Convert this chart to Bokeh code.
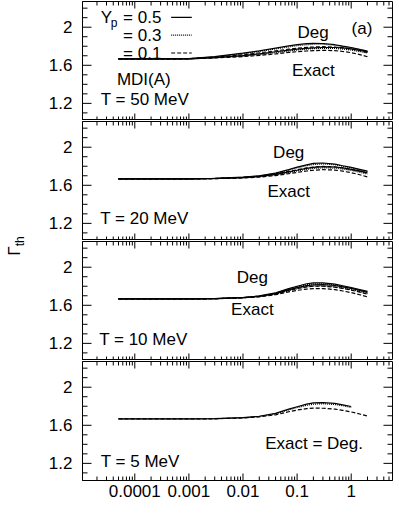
import math
from bokeh.plotting import figure
from bokeh.models import LogAxis, LinearAxis, FixedTicker, Label, Div
from bokeh.layouts import row, column
from bokeh.embed import file_html
from bokeh.resources import INLINE

NAN = float("nan")

# ---------------- data ----------------
DENSITY = [5e-5, 1e-4, 3e-4, 1e-3, 3e-3, 0.01, 0.02, 0.04, 0.07, 0.1,
           0.15, 0.2, 0.3, 0.5, 0.7, 1.0, 1.5, 2.0]

# T = 50 MeV
T50_DEG_05 = [1.667, 1.667, 1.667, 1.670, 1.690, 1.727, 1.752, 1.780, 1.803, 1.817, 1.827, 1.831, 1.829, 1.816, 1.801, 1.787, 1.765, 1.750]
T50_DEG_03 = [1.667, 1.667, 1.667, 1.669, 1.688, 1.722, 1.746, 1.772, 1.793, 1.806, 1.816, 1.821, 1.821, 1.811, 1.797, 1.783, 1.762, 1.745]
T50_DEG_01 = [1.667, 1.667, 1.667, 1.669, 1.684, 1.710, 1.730, 1.752, 1.769, 1.779, 1.788, 1.792, 1.795, 1.790, 1.782, 1.770, 1.750, 1.735]
T50_EX_05 = [1.667, 1.667, 1.667, 1.668, 1.681, 1.702, 1.720, 1.742, 1.759, 1.769, 1.778, 1.783, 1.787, 1.787, 1.782, 1.772, 1.755, 1.740]
T50_EX_03 = [1.667, 1.667, 1.667, 1.668, 1.679, 1.697, 1.713, 1.733, 1.750, 1.760, 1.770, 1.775, 1.778, 1.777, 1.770, 1.760, 1.742, 1.728]
T50_EX_01 = [1.667, 1.667, 1.667, 1.668, 1.677, 1.691, 1.704, 1.720, 1.735, 1.743, 1.750, 1.754, 1.757, 1.754, 1.745, 1.733, 1.710, 1.690]

# T = 20 MeV
T20_DEG_05 = [1.667, 1.667, 1.667, 1.668, 1.672, 1.685, 1.700, 1.728, 1.765, 1.790, 1.815, 1.830, 1.834, 1.822, 1.805, 1.788, 1.765, 1.748]
T20_DEG_03 = [1.667, 1.667, 1.667, 1.668, 1.672, 1.684, 1.698, 1.725, 1.760, 1.783, 1.806, 1.818, 1.824, 1.816, 1.800, 1.783, 1.760, 1.742]
T20_DEG_01 = [1.667, 1.667, 1.667, 1.668, 1.671, 1.682, 1.695, 1.718, 1.746, 1.763, 1.782, 1.792, 1.798, 1.793, 1.782, 1.767, 1.745, 1.728]
T20_EX_05 = [1.667, 1.667, 1.667, 1.668, 1.671, 1.680, 1.693, 1.714, 1.740, 1.758, 1.777, 1.788, 1.795, 1.792, 1.782, 1.768, 1.748, 1.732]
T20_EX_03 = [1.667, 1.667, 1.667, 1.667, 1.670, 1.679, 1.690, 1.710, 1.733, 1.750, 1.767, 1.777, 1.783, 1.780, 1.770, 1.756, 1.734, 1.718]
T20_EX_01 = [1.667, 1.667, 1.667, 1.667, 1.670, 1.677, 1.686, 1.702, 1.722, 1.735, 1.750, 1.758, 1.764, 1.760, 1.748, 1.732, 1.708, 1.688]

# T = 10 MeV
T10_DEG_05 = [1.667, 1.667, 1.667, 1.667, 1.670, 1.682, 1.698, 1.730, 1.775, 1.800, 1.826, 1.835, 1.835, 1.822, 1.805, 1.787, 1.763, 1.746]
T10_DEG_03 = [1.667, 1.667, 1.667, 1.667, 1.670, 1.681, 1.696, 1.727, 1.770, 1.793, 1.816, 1.825, 1.826, 1.815, 1.800, 1.782, 1.758, 1.740]
T10_DEG_01 = [1.667, 1.667, 1.667, 1.667, 1.669, 1.680, 1.693, 1.720, 1.757, 1.776, 1.794, 1.800, 1.800, 1.790, 1.777, 1.760, 1.736, 1.716]
T10_EX_05 = [1.667, 1.667, 1.667, 1.667, 1.669, 1.680, 1.694, 1.722, 1.762, 1.785, 1.806, 1.815, 1.817, 1.808, 1.794, 1.777, 1.754, 1.736]
T10_EX_03 = [1.667, 1.667, 1.667, 1.667, 1.669, 1.679, 1.692, 1.718, 1.754, 1.774, 1.794, 1.802, 1.804, 1.795, 1.782, 1.765, 1.741, 1.722]
T10_EX_01 = [1.667, 1.667, 1.667, 1.667, 1.669, 1.678, 1.689, 1.711, 1.740, 1.757, 1.770, 1.776, 1.776, 1.765, 1.750, 1.733, 1.708, 1.688]

# T = 5 MeV (Exact = Deg.)
T5_05 = [1.667, 1.667, 1.667, 1.667, 1.669, 1.680, 1.695, 1.725, 1.770, 1.795, 1.822, 1.835, 1.838, 1.830, 1.815, 1.797, NAN, NAN]
T5_03 = [1.667, 1.667, 1.667, 1.667, 1.669, 1.679, 1.693, 1.720, 1.762, 1.786, 1.810, 1.822, 1.826, 1.818, 1.805, 1.787, NAN, NAN]
T5_01 = [1.667, 1.667, 1.667, 1.667, 1.668, 1.677, 1.688, 1.710, 1.742, 1.760, 1.775, 1.780, 1.779, 1.770, 1.757, 1.740, 1.716, 1.697]

YP_LABELS = ["= 0.5", "= 0.3", "= 0.1"]
TEMP_LABELS = ["T = 50 MeV", "T = 20 MeV", "T = 10 MeV", "T = 5 MeV"]
X_TICKS = [1e-4, 1e-3, 1e-2, 1e-1, 1.0]
X_TICK_LABELS = ["0.0001", "0.001", "0.01", "0.1", "1"]
Y_TICKS = [1.2, 1.6, 2.0]
Y_TICK_LABELS = ["1.2", "1.6", "2"]
Y_MINOR = [1.1, 1.3, 1.4, 1.5, 1.7, 1.8, 1.9, 2.1, 2.2]

# ---------------- style ----------------
FS = "17px"
DASHES = ["solid", "1 1", "4 2"]
X_RANGE = (1.08e-5, 5.8)
Y_RANGE = (1.02, 2.27)
PANEL_W = 353
BORDER_L = 42
FRAME_W = PANEL_W - BORDER_L - 1
FRAME_H = 119

X_MINOR = []
for d in [1e-5, 1e-4, 1e-3, 1e-2, 1e-1, 1.0]:
    for m in range(2, 10):
        X_MINOR.append(d * m)
X_MINOR = [t for t in X_MINOR if X_RANGE[0] < t < X_RANGE[1]]


def make_panel(height, x_labels):
    p = figure(width=PANEL_W, height=height, x_axis_type="log",
               x_range=X_RANGE, y_range=Y_RANGE,
               x_axis_location=None, y_axis_location=None,
               output_backend="svg", toolbar_location=None,
               min_border_left=BORDER_L, min_border_right=1,
               min_border_top=1, min_border_bottom=(24 if x_labels else 0))
    p.grid.visible = False
    p.outline_line_color = "black"

    if x_labels:
        below = LogAxis(ticker=FixedTicker(ticks=X_TICKS, minor_ticks=[]))
        below.major_label_overrides = dict(zip(X_TICKS, X_TICK_LABELS))
        below.major_tick_in = 0
        below.major_tick_out = 0
        below.minor_tick_in = 0
        below.minor_tick_out = 0
        below.major_label_standoff = 4
        below.major_label_text_font_size = FS
        below.major_label_text_color = "black"
        p.add_layout(below, "below")

    left = LinearAxis(ticker=FixedTicker(ticks=Y_TICKS, minor_ticks=[]))
    left.major_label_overrides = dict(zip(Y_TICKS, Y_TICK_LABELS))
    left.major_tick_in = 0
    left.major_tick_out = 0
    left.minor_tick_in = 0
    left.minor_tick_out = 0
    left.major_label_standoff = 10
    left.major_label_text_font_size = FS
    left.major_label_text_color = "black"
    p.add_layout(left, "left")

    # inward ticks on all four sides of the frame
    dy = (Y_RANGE[1] - Y_RANGE[0]) / FRAME_H
    dx = math.log10(X_RANGE[1] / X_RANGE[0]) / FRAME_W
    x0, y0, x1, y1 = [], [], [], []
    for t, ln in [(t, 7) for t in X_TICKS] + [(t, 4) for t in X_MINOR]:
        x0 += [t, t]
        y0 += [Y_RANGE[0], Y_RANGE[1]]
        x1 += [t, t]
        y1 += [Y_RANGE[0] + ln * dy, Y_RANGE[1] - ln * dy]
    for v, ln in [(v, 9) for v in Y_TICKS] + [(v, 5) for v in Y_MINOR]:
        f = 10 ** (ln * dx)
        x0 += [X_RANGE[0], X_RANGE[1]]
        y0 += [v, v]
        x1 += [X_RANGE[0] * f, X_RANGE[1] / f]
        y1 += [v, v]
    p.segment(x0, y0, x1, y1, line_color="black", line_width=1)
    return p


def add_label(p, x, y, text, align="center", size=FS):
    p.add_layout(Label(x=x, y=y, text=text, text_font_size=size,
                       text_align=align, text_baseline="middle", text_color="black"))


def draw_curves(p, series):
    for ys, dash in series:
        p.line(DENSITY, ys, line_color="black", line_width=1.2, line_dash=dash)


p1 = make_panel(120, False)
p2 = make_panel(120, False)
p3 = make_panel(120, False)
p4 = make_panel(144, True)

draw_curves(p1, [(T50_DEG_05, DASHES[0]), (T50_DEG_03, DASHES[1]), (T50_DEG_01, DASHES[2]),
                 (T50_EX_05, DASHES[0]), (T50_EX_03, DASHES[1]), (T50_EX_01, DASHES[2])])
draw_curves(p2, [(T20_DEG_05, DASHES[0]), (T20_DEG_03, DASHES[1]), (T20_DEG_01, DASHES[2]),
                 (T20_EX_05, DASHES[0]), (T20_EX_03, DASHES[1]), (T20_EX_01, DASHES[2])])
draw_curves(p3, [(T10_DEG_05, DASHES[0]), (T10_DEG_03, DASHES[1]), (T10_DEG_01, DASHES[2]),
                 (T10_EX_05, DASHES[0]), (T10_EX_03, DASHES[1]), (T10_EX_01, DASHES[2])])
draw_curves(p4, [(T5_05, DASHES[0]), (T5_03, DASHES[1]), (T5_01, DASHES[2])])

# panel (a) texts and legend
LEG_Y = [2.104, 1.917, 1.729]
for i, (txt, dash) in enumerate(zip(YP_LABELS, DASHES)):
    add_label(p1, 3.1e-4, LEG_Y[i], txt, align="right")
    p1.line([4.7e-4, 1.13e-3], [LEG_Y[i], LEG_Y[i]], line_color="black", line_width=1.2, line_dash=dash)
add_label(p1, 2.35e-5, LEG_Y[0], "Y", align="left")
add_label(p1, 3.6e-5, LEG_Y[0] - 0.055, "p", align="left", size="12px")
add_label(p1, 1.47e-4, 1.448, "MDI(A)")
add_label(p1, 2.35e-5, 1.24, TEMP_LABELS[0], align="left")
add_label(p1, 0.197, 1.94, "Deg")
add_label(p1, 0.2, 1.54, "Exact")
add_label(p1, 1.58, 1.99, "(a)")

add_label(p2, 0.07, 1.94, "Deg")
add_label(p2, 0.07, 1.53, "Exact")
add_label(p2, 2.3e-5, 1.25, TEMP_LABELS[1], align="left")

add_label(p3, 0.0149, 1.896, "Deg")
add_label(p3, 0.0149, 1.552, "Exact")
add_label(p3, 2.2e-5, 1.24, TEMP_LABELS[2], align="left")

add_label(p4, 0.206, 1.406, "Exact = Deg.")
add_label(p4, 2.35e-5, 1.22, TEMP_LABELS[3], align="left")

# y-axis title as rotated HTML text
title = Div(width=30, height=504,
            text=('<div style="position:absolute; left:-12px; top:230px; width:44px; height:22px; '
                  'line-height:22px; text-align:center; transform:rotate(-90deg); white-space:nowrap; '
                  'font-family:\'Liberation Sans\', Arial, sans-serif; font-size:17px; color:black;">'
                  '&Gamma;<sub style="font-size:12px">th</sub></div>'))

layout = row(title, column(p1, p2, p3, p4, spacing=0), spacing=0)

with open("out.html", "w") as f:
    f.write(file_html(layout, INLINE))
